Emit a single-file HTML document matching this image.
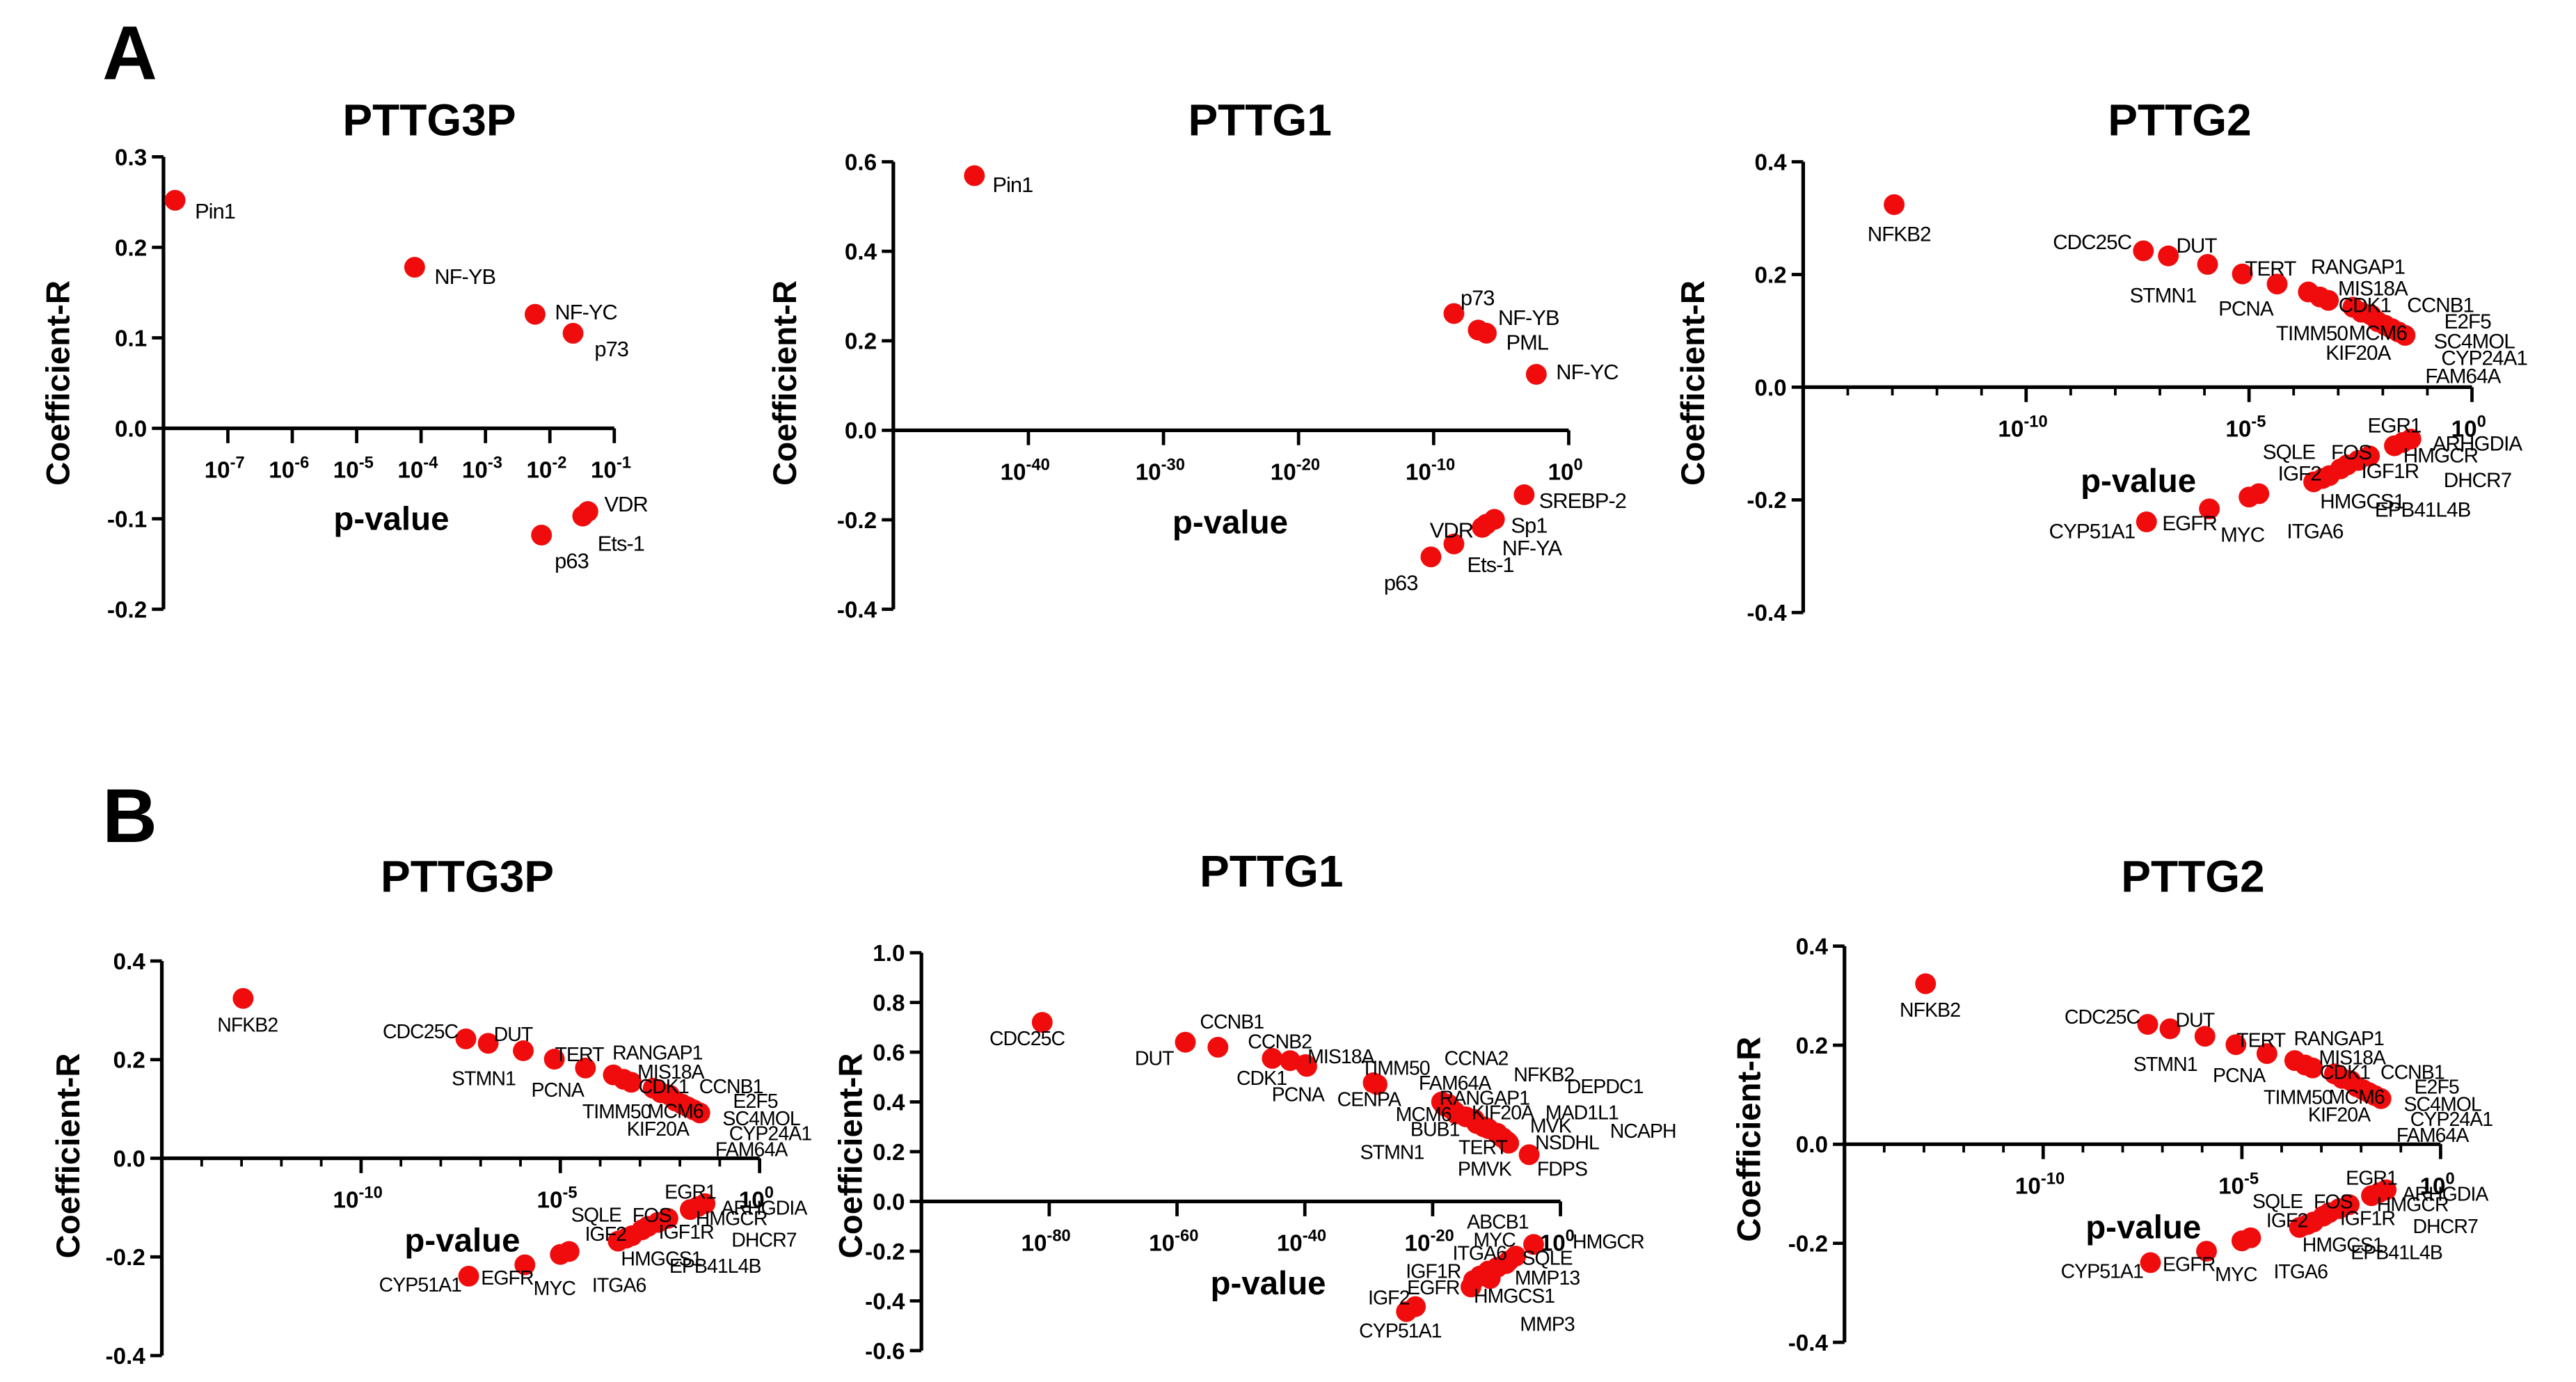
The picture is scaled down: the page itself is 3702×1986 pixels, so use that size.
<!DOCTYPE html>
<html><head><meta charset="utf-8">
<style>
html,body{margin:0;padding:0;background:#fff;}
svg{display:block;}
text{font-family:"Liberation Sans",Arial,sans-serif;}
</style></head>
<body>
<svg id="fig" width="3702" height="1986" viewBox="0 0 1560 837" preserveAspectRatio="none" xmlns="http://www.w3.org/2000/svg">
<rect width="1560" height="837" fill="#fff"/>
<text x="62" y="48" font-size="46" font-weight="bold">A</text>
<text x="62" y="510" font-size="46" font-weight="bold">B</text>
</svg>
<script>
// ---- data: A1 PTTG3P ----
const a1Genes = ["Pin1","NF-YB","NF-YC","p73","VDR","Ets-1","p63"];
const a1LogP = [-7.82,-4.1,-2.23,-1.64,-1.41,-1.49,-2.13];
const a1R = [0.252,0.178,0.126,0.105,-0.092,-0.097,-0.118];
// ---- data: A2 PTTG1 ----
const a2Genes = ["Pin1","p73","NF-YB","PML","NF-YC","SREBP-2","Sp1","VDR","NF-YA","Ets-1","p63"];
const a2LogP = [-44.0,-8.5,-6.7,-6.1,-2.4,-3.3,-5.5,-6.1,-6.4,-8.5,-10.2];
const a2R = [0.569,0.261,0.224,0.217,0.125,-0.144,-0.199,-0.21,-0.217,-0.254,-0.283];
// ---- data: PTTG2-like set (A3, B1, B3) ----
const setGenes = ["NFKB2","CDC25C","DUT","STMN1","TERT","RANGAP1","MIS18A","CDK1","CCNB1","PCNA","TIMM50","MCM6","KIF20A","E2F5","SC4MOL","CYP24A1","FAM64A","EGR1","ARHGDIA","HMGCR","SQLE","FOS","IGF2","IGF1R","DHCR7","HMGCS1","EPB41L4B","ITGA6","MYC","EGFR","CYP51A1"];
const setLogP = [-12.96,-7.37,-6.81,-5.93,-5.15,-3.67,-3.41,-3.22,-2.67,-4.37,-2.48,-2.26,-2.11,-1.95,-1.8,-1.65,-1.5,-1.37,-1.55,-1.74,-2.55,-2.3,-3.2,-2.8,-2.95,-3.35,-3.55,-4.78,-5.0,-5.89,-7.3];
const setR = [0.324,0.242,0.233,0.218,0.201,0.169,0.16,0.154,0.142,0.183,0.133,0.128,0.116,0.11,0.104,0.098,0.092,-0.092,-0.098,-0.104,-0.13,-0.122,-0.157,-0.138,-0.145,-0.162,-0.168,-0.189,-0.195,-0.216,-0.239];
// ---- data: B2 PTTG1 ----
const b2Genes = ["CDC25C","DUT","CCNB1","CDK1","CCNB2","MIS18A","PCNA","TIMM50","CENPA","CCNA2","NFKB2","FAM64A","DEPDC1","RANGAP1","MCM6","KIF20A","MAD1L1","BUB1","NCAPH","MVK","STMN1","NSDHL","TERT","PMVK","FDPS","HMGCR","ABCB1","MYC","SQLE","ITGA6","MMP13","IGF1R","EGFR","HMGCS1","MMP3","IGF2","CYP51A1"];
const b2LogP = [-81.1,-58.7,-53.6,-45.1,-42.3,-39.7,-39.9,-29.3,-28.7,-18.6,-17.5,-17.0,-16.5,-18.2,-16.3,-14.8,-13.5,-13.1,-12.0,-9.9,-11.3,-9.0,-8.1,-8.3,-4.9,-4.2,-7.0,-8.1,-8.5,-9.9,-11.3,-12.6,-13.6,-14.0,-11.0,-22.7,-24.1];
const b2R = [0.72,0.64,0.62,0.575,0.566,0.543,0.55,0.477,0.47,0.40,0.39,0.37,0.36,0.385,0.352,0.34,0.33,0.313,0.30,0.274,0.293,0.255,0.234,0.24,0.188,-0.173,-0.22,-0.239,-0.25,-0.265,-0.28,-0.3,-0.318,-0.344,-0.31,-0.423,-0.443];

// label offsets (styling, px)
const a1Off = [[12,7,"start"],[12,6,"start"],[12,-1,"start"],[13,10,"start"],[10,-4,"start"],[9,17,"start"],[8,16,"start"]];
const a2Off = [[11,6,"start"],[4,-9,"start"],[12,-7,"start"],[12,6,"start"],[12,-1,"start"],[9,4,"start"],[10,4,"start"],[-8,4,"end"],[12,13,"start"],[8,13,"start"],[-8,16,"end"]];
const setOff = [[3,18],[-31,-5],[17,-6],[-27,19],[17,-3],[30,-15],[32,-5],[22,3],[53,-1],[-19,15],[-30,13],[4,11],[-12,19],[50,-2],[50,8],[52,16],[35,25],[-10,-8],[45,1],[28,6],[-42,-5],[-11,-2],[-18,-1],[26,4],[83,7],[24,14],[66,17],[34,23],[-4,23],[-12,9],[-33,6]];
const b2Lab = [[622,633],[699,645],[746,623],[764,657],[775,635],[812,644],[786,667],[845,651],[829,670],[894,645],[935,655],[881,660],[972,662],[899,669],[862,679],[910,678],[958,678],[869,688],[995,689],[939,686],[843,702],[949,696],[898,699],[899,712],[946,712],[974,756],[907,744],[905,755],[937,766],[896,763],[937,778],[868,774],[868,784],[917,789],[937,806],[841,790],[848,810]];

const NS="http://www.w3.org/2000/svg";
const svg=document.getElementById('fig');
function el(tag,attrs,parent){const e=document.createElementNS(NS,tag);for(const k in attrs)e.setAttribute(k,attrs[k]);(parent||svg).appendChild(e);return e;}

function panel(cfg){
  const g=el('g',{});
  
  
  const sx=v=>cfg.x0+(v-cfg.dmin)/(cfg.dmax-cfg.dmin)*(cfg.x1-cfg.x0);
  const sy=v=>cfg.yTop+(cfg.rmax-v)/(cfg.rmax-cfg.rmin)*(cfg.yBot-cfg.yTop);
  const y0=sy(0);
  const t=el('text',{x:cfg.tx,y:cfg.ty,'font-size':27,'font-weight':'bold','text-anchor':'middle'},g);
  t.textContent=cfg.title;
  
  
  const ya=el('line',{x1:cfg.x0,y1:cfg.yTop,x2:cfg.x0,y2:cfg.yBot,stroke:'#000','stroke-width':2.2},g);
  
  
  cfg.yTicks.forEach(v=>{
    const yy=sy(v);
    el('line',{x1:cfg.x0-7,y1:yy,x2:cfg.x0,y2:yy,stroke:'#000','stroke-width':2},g);
    const tl=el('text',{x:cfg.x0-10,y:yy+5,'font-size':14,'font-weight':'bold','text-anchor':'end'},g);
    tl.textContent=v.toFixed(1);
    
    
  });
  const xa=el('line',{x1:cfg.x0,y1:y0,x2:cfg.x1,y2:y0,stroke:'#000','stroke-width':2.2},g);
  
  
  if(cfg.minor){for(let d=Math.ceil(cfg.dmin);d<=cfg.dmax;d++){const xx=sx(d);el('line',{x1:xx,y1:y0,x2:xx,y2:y0+5,stroke:'#000','stroke-width':1.6},g);}}
  cfg.xTicks.forEach(d=>{
    const xx=sx(d);
    el('line',{x1:xx,y1:y0,x2:xx,y2:y0+9,stroke:'#000','stroke-width':2},g);
    const tl=el('text',{x:xx-2,y:y0+30,'font-size':14,'font-weight':'bold','text-anchor':'middle'},g);
    
    
    const a=el('tspan',{},tl);a.textContent='10';
    const b=el('tspan',{dy:-6,'font-size':10},tl);b.textContent=String(d);
  });
  const xt=el('text',{x:cfg.px,y:cfg.py,'font-size':20,'font-weight':'bold','text-anchor':'middle'},g);
  xt.textContent='p-value';
  
  
  const yt=el('text',{x:0,y:0,'font-size':20,'font-weight':'bold','text-anchor':'middle',transform:`translate(${cfg.ytx},${cfg.yty}) rotate(-90)`},g);
  yt.textContent='Coefficient-R';
  
  
  cfg.genes.forEach((gn,i)=>{
    const cx=sx(cfg.logp[i]), cy=sy(cfg.r[i]);
    const c=el('circle',{cx:cx,cy:cy,r:6.3,fill:'#f00c0c'},g);
    
    
  });
  cfg.genes.forEach((gn,i)=>{
    const cx=sx(cfg.logp[i]), cy=sy(cfg.r[i]);
    let lx,ly,anchor;
    if(cfg.abs){lx=cfg.abs[i][0];ly=cfg.abs[i][1];anchor='middle';}
    else {const o=cfg.off[i];lx=cx+o[0]*cfg.os;ly=cy+o[1]*cfg.os+4;anchor=o[2]||'middle';}
    const lt=el('text',{x:lx,y:ly,'font-size':cfg.fs,'text-anchor':anchor,'letter-spacing':-0.4},g);
    lt.textContent=gn;
    
    
  });
}

panel({name:'panel-a-pttg3p',title:'PTTG3P',tx:260,ty:82,x0:99,x1:372,dmin:-8,dmax:-1,yTop:95,yBot:369,rmax:0.3,rmin:-0.2,
 yTicks:[0.3,0.2,0.1,0.0,-0.1,-0.2],xTicks:[-7,-6,-5,-4,-3,-2,-1],px:237,py:321,ytx:42,yty:232,
 genes:a1Genes,logp:a1LogP,r:a1R,off:a1Off,os:1,fs:13});
panel({name:'panel-a-pttg1',title:'PTTG1',tx:763,ty:82,x0:541,x1:950,dmin:-50,dmax:0,yTop:98,yBot:369,rmax:0.6,rmin:-0.4,
 yTicks:[0.6,0.4,0.2,0.0,-0.2,-0.4],xTicks:[-40,-30,-20,-10,0],px:745,py:323,ytx:482,yty:232,
 genes:a2Genes,logp:a2LogP,r:a2R,off:a2Off,os:1,fs:13});
panel({name:'panel-a-pttg2',title:'PTTG2',tx:1320,ty:82,x0:1092,x1:1497,dmin:-15,dmax:0,yTop:98,yBot:371,rmax:0.4,rmin:-0.4,minor:true,
 yTicks:[0.4,0.2,0.0,-0.2,-0.4],xTicks:[-10,-5,0],px:1295,py:298,ytx:1032,yty:232,
 genes:setGenes,logp:setLogP,r:setR,off:setOff,os:1,fs:12.5});
panel({name:'panel-b-pttg3p',title:'PTTG3P',tx:283,ty:540,x0:98,x1:460,dmin:-15,dmax:0,yTop:582,yBot:821,rmax:0.4,rmin:-0.4,minor:true,
 yTicks:[0.4,0.2,0.0,-0.2,-0.4],xTicks:[-10,-5,0],px:280,py:758,ytx:48,yty:700,
 genes:setGenes,logp:setLogP,r:setR,off:setOff,os:0.89,fs:12});
panel({name:'panel-b-pttg1',title:'PTTG1',tx:770,ty:537,x0:558,x1:945,dmin:-100,dmax:0,yTop:577,yBot:818,rmax:1.0,rmin:-0.6,
 yTicks:[1.0,0.8,0.6,0.4,0.2,0.0,-0.2,-0.4,-0.6],xTicks:[-80,-60,-40,-20,0],px:768,py:784,ytx:522,yty:700,
 genes:b2Genes,logp:b2LogP,r:b2R,abs:b2Lab,fs:12});
panel({name:'panel-b-pttg2',title:'PTTG2',tx:1328,ty:540,x0:1117,x1:1478,dmin:-15,dmax:0,yTop:573,yBot:813,rmax:0.4,rmin:-0.4,minor:true,
 yTicks:[0.4,0.2,0.0,-0.2,-0.4],xTicks:[-10,-5,0],px:1298,py:750,ytx:1066,yty:690,
 genes:setGenes,logp:setLogP,r:setR,off:setOff,os:0.89,fs:12});
</script>
</body></html>
